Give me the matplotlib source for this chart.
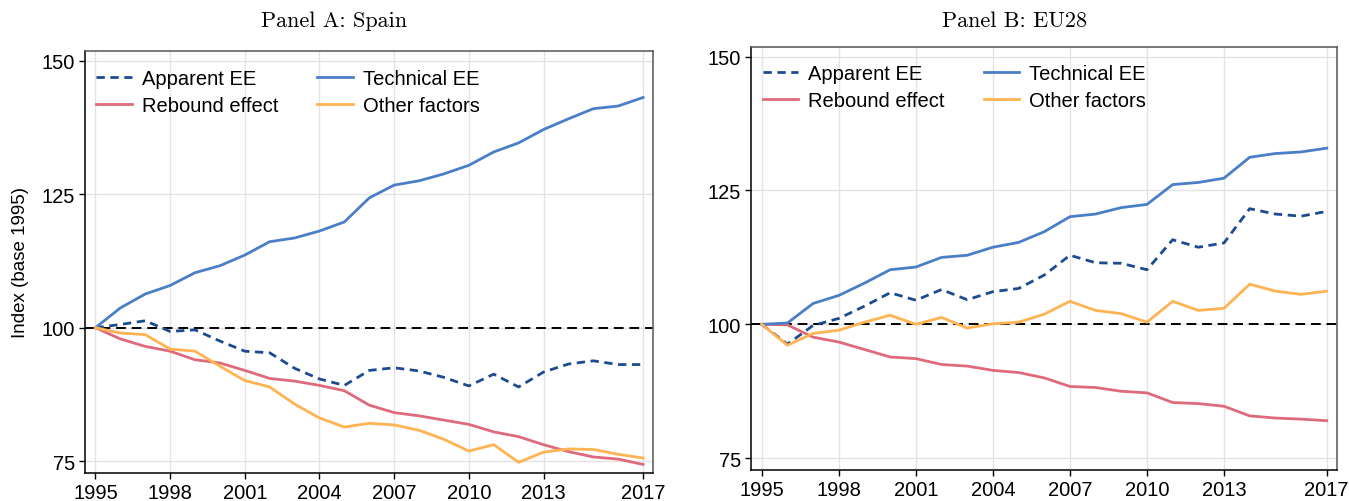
import numpy as np
import matplotlib
matplotlib.use("Agg")
import matplotlib.pyplot as plt

# years on the x axis
years = list(range(1995, 2018))
year_ticks = [1995, 1998, 2001, 2004, 2007, 2010, 2013, 2017]
y_ticks = [75, 100, 125, 150]

# Panel A: Spain (index, base 1995)
spain_apparent = [100, 100.6, 101.3, 99.3, 99.6, 97.5, 95.6, 95.3, 92.4, 90.4, 89.2, 92.0,
                  92.5, 91.9, 90.7, 89.1, 91.3, 88.9, 91.7, 93.2, 93.8, 93.1, 93.1]
spain_technical = [100, 103.7, 106.3, 107.9, 110.3, 111.6, 113.6, 116.1, 116.8, 118.1, 119.8, 124.3,
                   126.7, 127.5, 128.8, 130.4, 132.9, 134.6, 137.1, 139.1, 141.0, 141.5, 143.1]
spain_rebound = [100, 97.9, 96.5, 95.6, 94.0, 93.4, 92.0, 90.5, 90.0, 89.2, 88.2, 85.5,
                 84.1, 83.5, 82.7, 81.9, 80.5, 79.6, 78.1, 76.8, 75.8, 75.4, 74.4]
spain_other = [100, 99.0, 98.7, 96.0, 95.6, 92.8, 90.1, 88.9, 85.7, 83.1, 81.4, 82.1,
               81.8, 80.8, 79.1, 76.9, 78.1, 74.8, 76.7, 77.3, 77.2, 76.3, 75.6]

# Panel B: EU28
eu_apparent = [100, 96.3, 99.8, 101.1, 103.4, 105.9, 104.5, 106.5, 104.6, 106.1, 106.7, 109.2,
               112.9, 111.5, 111.4, 110.2, 115.8, 114.4, 115.2, 121.6, 120.6, 120.2, 121.1]
eu_technical = [100, 100.25, 103.9, 105.4, 107.7, 110.2, 110.7, 112.5, 112.9, 114.4, 115.3, 117.3,
                120.1, 120.6, 121.8, 122.4, 126.1, 126.5, 127.3, 131.2, 131.9, 132.2, 132.9]
eu_rebound = [100, 99.9, 97.6, 96.7, 95.3, 93.9, 93.6, 92.5, 92.2, 91.4, 91.0, 90.0,
              88.4, 88.2, 87.5, 87.2, 85.4, 85.2, 84.7, 82.9, 82.5, 82.3, 82.0]
eu_other = [100, 96.1, 98.3, 98.9, 100.4, 101.7, 100.0, 101.3, 99.3, 100.1, 100.4, 101.9,
            104.3, 102.6, 102.0, 100.4, 104.3, 102.6, 103.0, 107.5, 106.2, 105.6, 106.2]

c_apparent = "#1d4b8f"
c_technical = "#4a7ec6"
c_rebound = "#df6a7c"
c_other = "#ffb352"

plt.rcParams["font.family"] = ["Liberation Sans", "DejaVu Sans"]

fig = plt.figure(figsize=(13.49, 5.02), dpi=100)
ax_a = fig.add_axes([0.0630, 0.0558, 0.4211, 0.8406])
ax_b = fig.add_axes([0.5567, 0.0618, 0.4344, 0.8426])


def draw_panel(ax, apparent, technical, rebound, other, leg_anchor):
    ax.axhline(100, color="black", linestyle=(0, (5, 3)), linewidth=1.4, zorder=2)
    ax.plot(years, apparent, color=c_apparent, linestyle=(0, (3, 2)), linewidth=2.0,
            label="Apparent EE", zorder=3)
    ax.plot(years, rebound, color=c_rebound, linewidth=2.0, label="Rebound effect", zorder=3)
    ax.plot(years, technical, color=c_technical, linewidth=2.0, label="Technical EE", zorder=3)
    ax.plot(years, other, color=c_other, linewidth=2.0, label="Other factors", zorder=3)

    ax.set_xlim(1994.58, 2017.4)
    ax.set_ylim(72.8, 151.8)
    ax.set_xticks(year_ticks)
    ax.set_yticks(y_ticks)
    ax.grid(True, color="#e3e3e3", linewidth=1.0, zorder=0)
    ax.set_axisbelow(True)
    ax.tick_params(axis="both", labelsize=14.5, length=4, width=1.0, pad=3, direction="out")

    for side in ["left", "bottom"]:
        ax.spines[side].set_color("black")
        ax.spines[side].set_linewidth(1.1)
    for side in ["top", "right"]:
        ax.spines[side].set_color("#555555")
        ax.spines[side].set_linewidth(1.1)

    ax.legend(ncol=2, loc="upper left", bbox_to_anchor=leg_anchor, frameon=False,
              fontsize=14.5, handlelength=1.75, handletextpad=0.5, columnspacing=1.95,
              labelspacing=0.42, borderaxespad=0, borderpad=0)


draw_panel(ax_a, spain_apparent, spain_technical, spain_rebound, spain_other, (0.02, 0.958))
draw_panel(ax_b, eu_apparent, eu_technical, eu_rebound, eu_other, (0.02, 0.96))

ax_a.set_ylabel("Index (base 1995)", fontsize=13.5, labelpad=9)

fig.text(0.248, 0.958, "Panel A: Spain", family="cmr10", fontsize=16, ha="center", va="center")
fig.text(0.752, 0.958, "Panel B: EU28", family="cmr10", fontsize=16, ha="center", va="center")

fig.savefig("out.png", dpi=100)
